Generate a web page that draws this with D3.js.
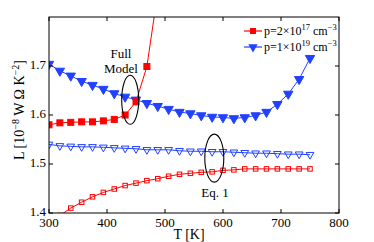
<!DOCTYPE html>
<html><head><meta charset="utf-8">
<script src="https://cdn.jsdelivr.net/npm/d3@7"></script>
<style>body{margin:0;background:#fff}svg{display:block}text{font-family:"Liberation Serif","Times New Roman",serif}</style>
</head><body><div id="c"></div>
<script>
const temps = [300,318.75,337.5,356.25,375,393.75,412.5,431.25,450,468.75,487.5,506.25,525,543.75,562.5,581.25,600,618.75,637.5,656.25,675,693.75,712.5,731.25,750];
const fullHighP = [1.704,1.690,1.680,1.669,1.661,1.653,1.644,1.637,1.631,1.624,1.618,1.612,1.606,1.603,1.599,1.596,1.595,1.593,1.595,1.599,1.606,1.622,1.643,1.673,1.716];
const fullLowP = [1.580,1.584,1.585,1.586,1.586,1.588,1.591,1.600,1.627,1.699,1.85];
const eqHighP = [1.540,1.537,1.536,1.535,1.535,1.534,1.533,1.532,1.531,1.529,1.529,1.529,1.527,1.526,1.526,1.525,1.525,1.524,1.523,1.522,1.522,1.521,1.520,1.520,1.519];
const eqLowP = [1.375,1.395,1.410,1.422,1.433,1.442,1.449,1.456,1.461,1.466,1.470,1.475,1.479,1.481,1.483,1.484,1.487,1.488,1.490,1.490,1.490,1.490,1.490,1.490,1.490];
const xTicks = [300,400,500,600,700,800];
const yTicks = [1.4,1.5,1.6,1.7];
const RED = "#ff0000", BLUE = "#2141ff";

const W = 374, H = 242;
const m = {l:49, r:35, t:17, b:29};
const svg = d3.select("#c").append("svg").attr("width",W).attr("height",H);
const x = d3.scaleLinear().domain([300,800]).range([m.l, W-m.r]);
const y = d3.scaleLinear().domain([1.4,1.8]).range([H-m.b, m.t]);

svg.append("clipPath").attr("id","clip").append("rect")
  .attr("x",m.l).attr("y",m.t).attr("width",W-m.l-m.r).attr("height",H-m.t-m.b);

const g = svg.append("g").attr("clip-path","url(#clip)");
const line = d3.line().x(d=>x(d[0])).y(d=>y(d[1]));
const tri = d3.symbol().type(d3.symbolTriangle);

function series(vals, color, kind, filled, size){
  const pts = vals.map((v,i)=>[temps[i], v]);
  g.append("path").datum(pts).attr("d",line).attr("fill","none").attr("stroke",color).attr("stroke-width",1);
  const mk = g.selectAll(null).data(pts).enter();
  if(kind==="sq"){
    mk.append("rect").attr("x",d=>x(d[0])-size/2).attr("y",d=>y(d[1])-size/2)
      .attr("width",size).attr("height",size)
      .attr("fill",filled?color:"none").attr("stroke",color).attr("stroke-width",1);
  } else {
    mk.append("path").attr("d",tri.size(size)())
      .attr("transform",d=>`translate(${x(d[0])},${y(d[1])}) rotate(180)`)
      .attr("fill",filled?color:"none").attr("stroke",color).attr("stroke-width",1);
  }
}
series(eqLowP, RED, "sq", false, 4.5);
series(eqHighP, BLUE, "tri", false, 26);
series(fullHighP, BLUE, "tri", true, 38);
series(fullLowP, RED, "sq", true, 6);

// axes frame and ticks
svg.append("rect").attr("x",m.l).attr("y",m.t).attr("width",W-m.l-m.r).attr("height",H-m.t-m.b)
  .attr("fill","none").attr("stroke","#000").attr("stroke-width",1);
const tl = 4;
const ax = svg.append("g").attr("font-size",13).attr("fill","#000");
xTicks.forEach(t=>{
  ax.append("line").attr("x1",x(t)).attr("x2",x(t)).attr("y1",y(1.4)).attr("y2",y(1.4)-tl).attr("stroke","#000");
  ax.append("line").attr("x1",x(t)).attr("x2",x(t)).attr("y1",y(1.8)).attr("y2",y(1.8)+tl).attr("stroke","#000");
  ax.append("text").attr("x",x(t)).attr("y",y(1.4)+14).attr("text-anchor","middle").text(t);
});
yTicks.forEach(t=>{
  ax.append("line").attr("x1",x(300)).attr("x2",x(300)+tl).attr("y1",y(t)).attr("y2",y(t)).attr("stroke","#000");
  ax.append("line").attr("x1",x(800)).attr("x2",x(800)-tl).attr("y1",y(t)).attr("y2",y(t)).attr("stroke","#000");
  ax.append("text").attr("x",x(300)-3).attr("y",y(t)+3).attr("text-anchor","end").text(d3.format(".1f")(t));
});

// axis labels
svg.append("text").attr("x",189).attr("y",239).attr("text-anchor","middle").attr("font-size",14).text("T [K]");
const yl = svg.append("text").attr("transform",`translate(24,110) rotate(-90)`)
  .attr("text-anchor","middle").attr("font-size",14);
yl.append("tspan").text("L [10");
yl.append("tspan").attr("dy",-5).attr("font-size",10).text("−8");
yl.append("tspan").attr("dy",5).text(" W Ω K");
yl.append("tspan").attr("dy",-5).attr("font-size",10).text("−2");
yl.append("tspan").attr("dy",5).text("]");

// legend
const leg = [
  {c:RED, kind:"sq", base:"p=2×10", e:"17", y:31},
  {c:BLUE, kind:"tri", base:"p=1×10", e:"19", y:47}
];
leg.forEach(d=>{
  svg.append("line").attr("x1",244).attr("x2",262).attr("y1",d.y).attr("y2",d.y).attr("stroke",d.c).attr("stroke-width",1.2);
  if(d.kind==="sq") svg.append("rect").attr("x",250).attr("y",d.y-3).attr("width",6).attr("height",6).attr("fill",d.c);
  else svg.append("path").attr("d",tri.size(38)()).attr("transform",`translate(253,${d.y}) rotate(180)`).attr("fill",d.c);
  const t = svg.append("text").attr("x",264).attr("y",d.y+4).attr("font-size",12);
  t.append("tspan").text(d.base);
  t.append("tspan").attr("dy",-5).attr("font-size",8.5).text(d.e);
  t.append("tspan").attr("dy",5).text(" cm");
  t.append("tspan").attr("dy",-5).attr("font-size",8.5).text("−3");
});

// annotations
svg.append("ellipse").attr("cx",x(440)).attr("cy",y(1.631)).attr("rx",8.5).attr("ry",24.5)
  .attr("fill","none").attr("stroke","#000").attr("stroke-width",1.1);
svg.append("ellipse").attr("cx",x(585)).attr("cy",y(1.512)).attr("rx",9.5).attr("ry",24)
  .attr("fill","none").attr("stroke","#000").attr("stroke-width",1.1);
svg.append("text").attr("x",121).attr("y",58).attr("text-anchor","middle").attr("font-size",13).text("Full");
svg.append("text").attr("x",121).attr("y",73).attr("text-anchor","middle").attr("font-size",13).text("Model");
svg.append("text").attr("x",215).attr("y",197).attr("text-anchor","middle").attr("font-size",13).text("Eq. 1");
</script></body></html>
